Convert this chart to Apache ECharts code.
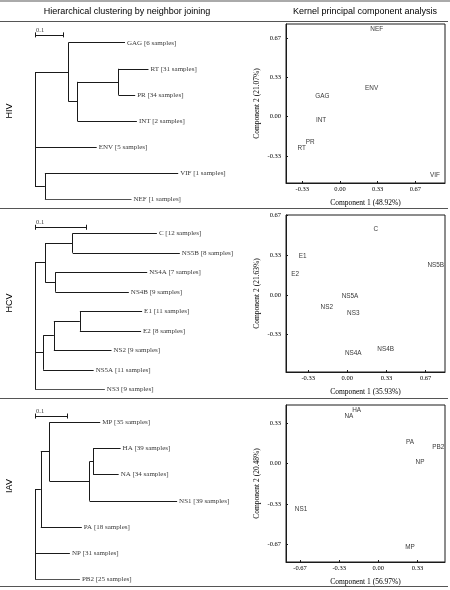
<!DOCTYPE html>
<html>
<head>
<meta charset="utf-8">
<script src="https://cdn.jsdelivr.net/npm/echarts@6/dist/echarts.min.js"></script>
<style>html,body{margin:0;padding:0;background:#fff}#c{width:450px;height:590px}</style>
</head>
<body>
<div id="c"></div>
<script>
// ---------------- DATA ----------------
// Neighbor-joining trees (Newick, branch lengths)
const hivTree = "((GAG:0.200,((RT:0.106,PR:0.059):0.145,INT:0.210):0.032):0.118,ENV:0.218,(VIF:0.471,NEF:0.306):0.035);";
const hivGenes = ['GAG','RT','PR','INT','ENV','VIF','NEF'];
const hivSamples = [6,31,34,2,5,1,1];
const hcvTree = "(((C:0.165,NS5B:0.210):0.054,(NS4A:0.180,NS4B:0.144):0.020):0.020,(((E1:0.122,E2:0.120):0.051,NS2:0.113):0.021,NS5A:0.099):0.016,NS3:0.137);";
const hcvGenes = ['C','NS5B','NS4A','NS4B','E1','E2','NS2','NS5A','NS3'];
const hcvSamples = [12,8,7,9,11,8,9,11,9];
const iavTree = "(((MP:0.157,((HA:0.085,NA:0.079):0.011,NS1:0.271):0.124):0.027,PA:0.127):0.018,NP:0.108,PB2:0.139);";
const iavGenes = ['MP','HA','NA','NS1','PA','NP','PB2'];
const iavSamples = [35,39,34,39,18,31,25];
const scaleBarLength = 0.1;

// Kernel PCA coordinates
const hivPcaGenes = ['NEF','ENV','GAG','INT','PR','RT','VIF'];
const hivPc1 = [0.325,0.28,-0.157,-0.168,-0.265,-0.34,0.84];
const hivPc2 = [0.74,0.24,0.175,-0.034,-0.22,-0.27,-0.50];
const hcvPcaGenes = ['C','E1','E2','NS5B','NS5A','NS2','NS3','NS4A','NS4B'];
const hcvPc1 = [0.242,-0.38,-0.445,0.753,0.023,-0.175,0.051,0.051,0.327];
const hcvPc2 = [0.553,0.324,0.169,0.247,-0.012,-0.107,-0.157,-0.49,-0.458];
const iavPcaGenes = ['HA','NA','PA','PB2','NP','NS1','MP'];
const iavPc1 = [-0.184,-0.25,0.27,0.511,0.355,-0.658,0.27];
const iavPc2 = [0.433,0.389,0.17,0.132,0.013,-0.379,-0.69];

// tick labels
const hivXTicks = [-0.3333,0,0.3333,0.6667];
const hivYTicks = [-0.3333,0,0.3333,0.6667];
const hcvXTicks = [-0.3333,0,0.3333,0.6667];
const hcvYTicks = [-0.3333,0,0.3333,0.6667];
const iavXTicks = [-0.6667,-0.3333,0,0.3333];
const iavYTicks = [-0.6667,-0.3333,0,0.3333];

const hivAxisNames = ['Component 1 (48.92%)','Component 2 (21.07%)'];
const hcvAxisNames = ['Component 1 (35.93%)','Component 2 (21.63%)'];
const iavAxisNames = ['Component 1 (56.97%)','Component 2 (20.48%)'];
const rowNames = ['HIV','HCV','IAV'];
const headers = ['Hierarchical clustering by neighbor joining','Kernel principal component analysis'];

// ---------------- LAYOUT ----------------
const panels = [
  {tree: hivTree, genes: hivGenes, samples: hivSamples,
   pcaGenes: hivPcaGenes, pc1: hivPc1, pc2: hivPc2, xt: hivXTicks, yt: hivYTicks, names: hivAxisNames,
   d: {left:35, top:42.7, step:26.1, width:180, pxPerUnit:283, bar:-0.3},
   s: {top:24, height:159, xmin:-0.478, xmax:0.929, ymin:-0.562, ymax:0.786},
   rowY:111, sepY:208},
  {tree: hcvTree, genes: hcvGenes, samples: hcvSamples,
   pcaGenes: hcvPcaGenes, pc1: hcvPc1, pc2: hcvPc2, xt: hcvXTicks, yt: hcvYTicks, names: hcvAxisNames,
   d: {left:35, top:233.3, step:19.5, width:180, pxPerUnit:510, bar:-0.31},
   s: {top:215, height:157, xmin:-0.522, xmax:0.832, ymin:-0.645, ymax:0.668},
   rowY:303, sepY:398},
  {tree: iavTree, genes: iavGenes, samples: iavSamples,
   pcaGenes: iavPcaGenes, pc1: iavPc1, pc2: iavPc2, xt: iavXTicks, yt: iavYTicks, names: iavAxisNames,
   d: {left:35, top:422.3, step:26.17, width:180, pxPerUnit:323, bar:-0.24},
   s: {top:405, height:157, xmin:-0.786, xmax:0.568, ymin:-0.81, ymax:0.48},
   rowY:486, sepY:586}
];
const SC_LEFT = 286, SC_WIDTH = 159;
const INK = '#000';
const LINE = '#1a1a1a';
const SERIF = '"Liberation Serif","Times New Roman",serif';
const SANS = '"Liberation Sans",Arial,sans-serif';

function parseNewick(s) {
  let i = 0;
  function node() {
    const n = {children: [], name: '', length: 0};
    if (s[i] === '(') {
      i++;
      n.children.push(node());
      while (s[i] === ',') { i++; n.children.push(node()); }
      i++;
    }
    let name = '';
    while (i < s.length && !':,);'.includes(s[i])) name += s[i++];
    n.name = name.trim();
    if (s[i] === ':') {
      i++; let num = '';
      while (i < s.length && !',);'.includes(s[i])) num += s[i++];
      n.length = parseFloat(num);
    }
    return n;
  }
  return node();
}

function layoutTree(root) {
  let leafIdx = 0;
  const segs = [], leaves = [];
  (function walk(n, depth, parentX) {
    n.x = depth;
    if (!n.children.length) { n.y = leafIdx++; leaves.push(n); }
    else {
      n.children.forEach(c => walk(c, depth + c.length, n.x));
      const f = n.children[0], l = n.children[n.children.length - 1];
      n.y = (f.y + l.y) / 2;
      segs.push([[n.x, f.y], [n.x, l.y]]);
    }
    if (parentX !== null) segs.push([[parentX, n.y], [n.x, n.y]]);
  })(root, 0, null);
  return {segs, leaves};
}

const grid = [], xAxis = [], yAxis = [], series = [], graphic = [];

panels.forEach((p, k) => {
  // ---- dendrogram ----
  const t = layoutTree(parseNewick(p.tree));
  const n = p.genes.length;
  const gi = grid.length;
  grid.push({left: p.d.left, top: p.d.top - p.d.step, width: p.d.width, height: n * p.d.step});
  xAxis.push({type: 'value', gridIndex: gi, min: 0, max: p.d.width / p.d.pxPerUnit, show: false});
  yAxis.push({type: 'value', gridIndex: gi, min: -1, max: n - 1, inverse: true, show: false});
  const tick = 2.5 / p.d.step;
  const barSegs = [
    [[0, p.d.bar], [scaleBarLength, p.d.bar]],
    [[0, p.d.bar - tick], [0, p.d.bar + tick]],
    [[scaleBarLength, p.d.bar - tick], [scaleBarLength, p.d.bar + tick]]
  ];
  series.push({
    type: 'lines', coordinateSystem: 'cartesian2d', xAxisIndex: gi, yAxisIndex: gi,
    data: t.segs.concat(barSegs).map(c => ({coords: c})),
    lineStyle: {color: LINE, width: 1, opacity: 1}, silent: true, animation: false
  });
  series.push({
    type: 'scatter', xAxisIndex: gi, yAxisIndex: gi, symbolSize: 0, silent: true, animation: false,
    data: t.leaves.map(l => {
      const j = p.genes.indexOf(l.name);
      return {name: l.name + ' [' + p.samples[j] + ' samples]', value: [l.x, l.y]};
    }).concat([{name: String(scaleBarLength), value: [0, p.d.bar],
      label: {position: 'top', align: 'left', distance: 1, fontSize: 6.5, offset: [1, 0]}}]),
    label: {show: true, position: 'right', distance: 2, formatter: '{b}',
      fontFamily: SERIF, fontSize: 7, color: INK}
  });

  // ---- PCA scatter ----
  const si = grid.length;
  grid.push({left: SC_LEFT, top: p.s.top, width: SC_WIDTH, height: p.s.height,
    show: true, borderColor: LINE, borderWidth: 1, backgroundColor: 'transparent'});
  const fmt = v => (Math.round(v * 100) / 100).toFixed(2);
  xAxis.push({type: 'value', gridIndex: si, min: p.s.xmin, max: p.s.xmax,
    name: p.names[0], nameLocation: 'middle', nameGap: 16,
    nameTextStyle: {fontFamily: SERIF, fontSize: 7.5, color: INK},
    axisLine: {show: true, onZero: false, lineStyle: {color: LINE, width: 1}},
    axisTick: {show: true, inside: true, length: 2, customValues: p.xt, lineStyle: {color: LINE}},
    axisLabel: {customValues: p.xt, formatter: fmt, margin: 3, fontFamily: SERIF, fontSize: 6.5, color: INK},
    splitLine: {show: false}});
  yAxis.push({type: 'value', gridIndex: si, min: p.s.ymin, max: p.s.ymax,
    name: p.names[1], nameLocation: 'middle', nameGap: 25, nameRotate: 90,
    nameTextStyle: {fontFamily: SERIF, fontSize: 7.5, color: INK},
    axisLine: {show: true, onZero: false, lineStyle: {color: LINE, width: 1}},
    axisTick: {show: true, inside: true, length: 2, customValues: p.yt, lineStyle: {color: LINE}},
    axisLabel: {customValues: p.yt, formatter: fmt, margin: 5, fontFamily: SERIF, fontSize: 6.5, color: INK},
    splitLine: {show: false}});
  series.push({
    type: 'scatter', xAxisIndex: si, yAxisIndex: si, symbolSize: 0, silent: true, animation: false,
    data: p.pcaGenes.map((g, j) => ({name: g, value: [p.pc1[j], p.pc2[j]]})),
    label: {show: true, position: 'inside', formatter: '{b}', fontFamily: SANS, fontSize: 6.4, color: INK}
  });

  // ---- decorations ----
  graphic.push({type: 'text', x: 10, y: p.rowY, rotation: Math.PI / 2,
    style: {text: rowNames[k], font: '9px ' + SANS, fill: INK, textAlign: 'center', textVerticalAlign: 'middle'}});
  graphic.push({type: 'line', shape: {x1: 0, y1: p.sepY + 0.5, x2: 448, y2: p.sepY + 0.5},
    style: {stroke: '#555', lineWidth: 1}});
});

graphic.push({type: 'line', shape: {x1: 0, y1: 1, x2: 450, y2: 1}, style: {stroke: '#aaa', lineWidth: 2}});
graphic.push({type: 'line', shape: {x1: 0, y1: 21.5, x2: 448, y2: 21.5}, style: {stroke: '#555', lineWidth: 1}});
graphic.push({type: 'text', x: 127, y: 12, style: {text: headers[0], font: '9px ' + SANS, fill: INK, textAlign: 'center', textVerticalAlign: 'middle'}});
graphic.push({type: 'text', x: 365, y: 12, style: {text: headers[1], font: '9px ' + SANS, fill: INK, textAlign: 'center', textVerticalAlign: 'middle'}});

const chart = echarts.init(document.getElementById('c'), null, {renderer: 'canvas'});
chart.setOption({animation: false, grid, xAxis, yAxis, series, graphic});
</script>
</body>
</html>
